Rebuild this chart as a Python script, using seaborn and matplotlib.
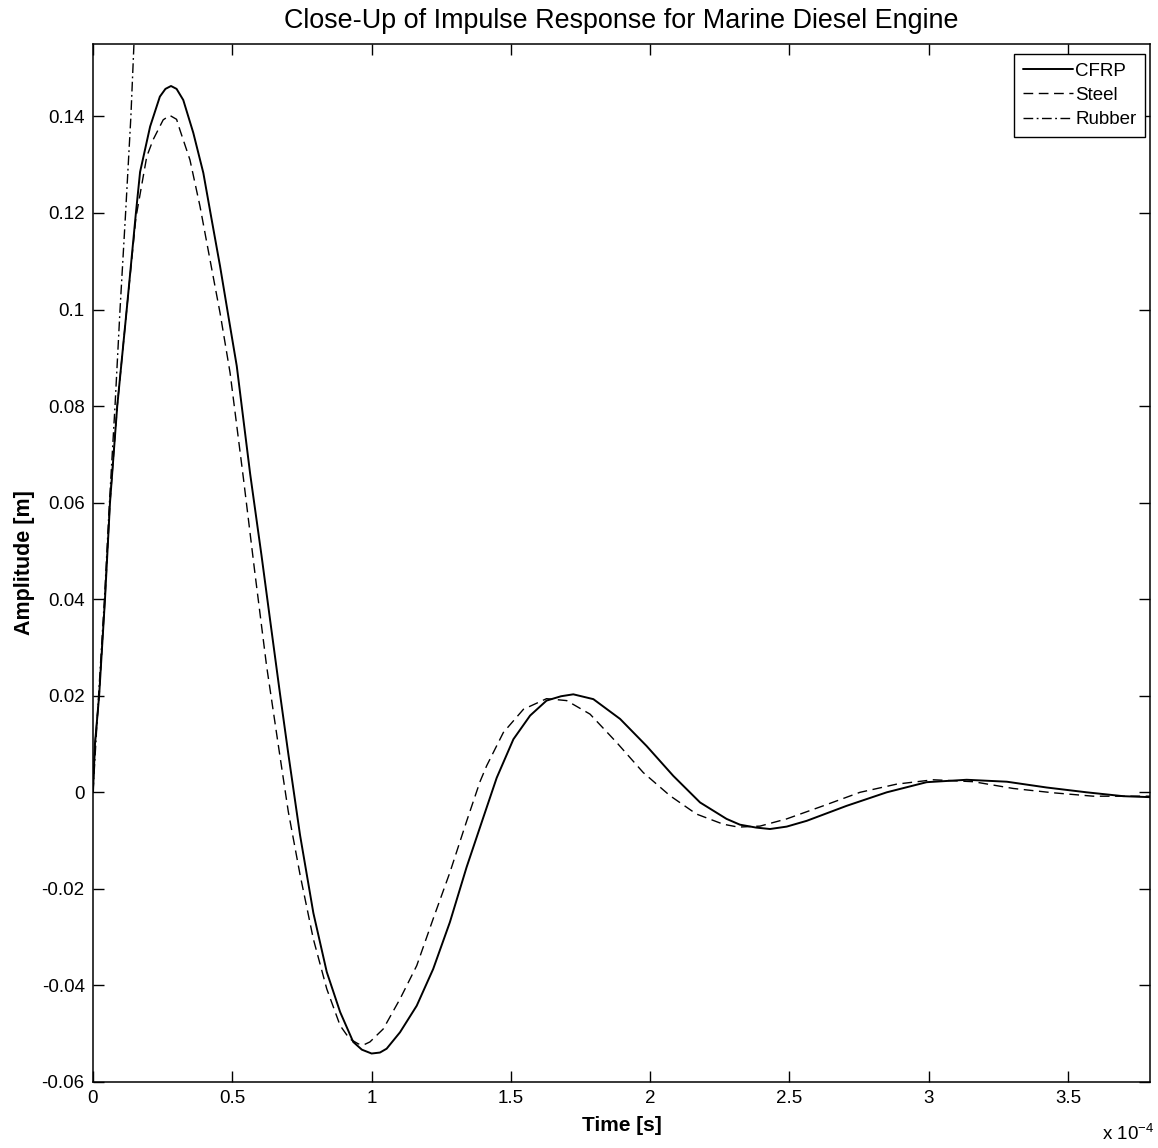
import numpy as np
import pandas as pd
import matplotlib
matplotlib.use("Agg")
import matplotlib.pyplot as plt
import seaborn as sns

# ---- data (time in units of 1e-4 s, amplitude in m) ----
cfrp_t = [0, 0.007, 0.022, 0.043, 0.061, 0.087, 0.121, 0.154, 0.169, 0.205, 0.240, 0.260,
          0.280, 0.300, 0.324, 0.360, 0.396, 0.426, 0.456, 0.486, 0.516, 0.564, 0.605,
          0.635, 0.671, 0.701, 0.731, 0.743, 0.791, 0.839, 0.887, 0.934, 0.965, 1.000,
          1.030, 1.054, 1.102, 1.162, 1.221, 1.281, 1.341, 1.401, 1.449, 1.509, 1.569,
          1.628, 1.680, 1.724, 1.796, 1.892, 1.987, 2.083, 2.179, 2.274, 2.322, 2.380,
          2.430, 2.490, 2.562, 2.705, 2.849, 2.992, 3.136, 3.280, 3.423, 3.567, 3.698, 3.794]
cfrp_v = [0, 0.010, 0.020, 0.040, 0.060, 0.080, 0.100, 0.120, 0.1285, 0.1379, 0.1441, 0.1457,
          0.1463, 0.1457, 0.1434, 0.1366, 0.1283, 0.1186, 0.1090, 0.0986, 0.0883, 0.0660, 0.0490,
          0.0360, 0.0205, 0.0080, -0.0040, -0.0088, -0.0250, -0.0372, -0.0455, -0.0517, -0.0533, -0.0541,
          -0.0539, -0.0531, -0.0497, -0.0442, -0.0366, -0.0269, -0.0155, -0.0052, 0.0030, 0.0110, 0.0159,
          0.0190, 0.0199, 0.0203, 0.0193, 0.0152, 0.0096, 0.0034, -0.0021, -0.0055, -0.0067, -0.0073,
          -0.0076, -0.0071, -0.0059, -0.0028, 0.0000, 0.0021, 0.0026, 0.0022, 0.0010, 0.0000, -0.0008, -0.0010]

steel_t = [0, 0.007, 0.022, 0.043, 0.061, 0.087, 0.121, 0.154, 0.193, 0.216, 0.252, 0.276,
           0.300, 0.312, 0.348, 0.384, 0.420, 0.456, 0.492, 0.540, 0.581, 0.623, 0.671,
           0.701, 0.743, 0.791, 0.839, 0.887, 0.920, 0.952, 0.972, 0.994, 1.042, 1.102,
           1.162, 1.221, 1.281, 1.341, 1.389, 1.413, 1.473, 1.545, 1.628, 1.700, 1.784,
           1.880, 1.975, 2.071, 2.166, 2.262, 2.316, 2.394, 2.490, 2.621, 2.753, 2.885,
           3.016, 3.160, 3.303, 3.447, 3.590, 3.700, 3.794]
steel_v = [0, 0.010, 0.020, 0.040, 0.060, 0.080, 0.100, 0.119, 0.1317, 0.1352, 0.1393, 0.1402,
           0.1394, 0.1372, 0.1310, 0.1214, 0.1103, 0.0993, 0.0869, 0.0650, 0.0455, 0.0262, 0.0075,
           -0.0040, -0.0170, -0.0304, -0.0407, -0.0483, -0.0510, -0.0521, -0.0523, -0.0517, -0.0490, -0.0428,
           -0.0359, -0.0262, -0.0166, -0.0060, 0.0022, 0.0055, 0.0124, 0.0172, 0.0194, 0.0190, 0.0162,
           0.0103, 0.0041, -0.0007, -0.0045, -0.0066, -0.0072, -0.0070, -0.0055, -0.0028, 0.0000, 0.0017,
           0.0026, 0.0022, 0.0008, -0.0001, -0.0008, -0.0008, -0.0008]

rubber_t = [0, 0.020, 0.041, 0.059, 0.079, 0.097, 0.117, 0.136, 0.147, 0.160]
rubber_v = [0, 0.020, 0.040, 0.060, 0.080, 0.100, 0.120, 0.140, 0.155, 0.172]

series_names = ["CFRP", "Steel", "Rubber"]
x_ticks = [0, 0.5, 1, 1.5, 2, 2.5, 3, 3.5]
y_ticks = [-0.06, -0.04, -0.02, 0, 0.02, 0.04, 0.06, 0.08, 0.1, 0.12, 0.14]

title = "Close-Up of Impulse Response for Marine Diesel Engine"
x_label = "Time [s]"
y_label = "Amplitude [m]"

# ---- style ----
sns.set_style("ticks")
plt.rcParams["font.family"] = ["Liberation Sans", "DejaVu Sans"]
plt.rcParams["axes.unicode_minus"] = False
plt.rcParams["mathtext.default"] = "regular"
plt.rcParams["text.color"] = "black"
plt.rcParams["axes.labelcolor"] = "black"
plt.rcParams["xtick.color"] = "black"
plt.rcParams["ytick.color"] = "black"

W, H = 1158, 1148
fig = plt.figure(figsize=(W / 100, H / 100), dpi=100)
L, R, T, B = 93, 1150, 44, 1082
ax = fig.add_axes([L / W, 1 - B / H, (R - L) / W, (B - T) / H])

fs = 13.5
sns.lineplot(x=cfrp_t, y=cfrp_v, ax=ax, color="black", linewidth=1.4, sort=False, label=series_names[0])
sns.lineplot(x=steel_t, y=steel_v, ax=ax, color="black", linewidth=1.0, sort=False, label=series_names[1])
ax.get_lines()[-1].set_dashes((7, 4))
sns.lineplot(x=rubber_t, y=rubber_v, ax=ax, color="black", linewidth=1.0, sort=False, label=series_names[2])
ax.get_lines()[-1].set_dashes((7, 2.5, 1.3, 2.5))

ax.set_xlim(0, 3.794)
ax.set_ylim(-0.06, 0.155)
ax.set_xticks(x_ticks)
ax.set_xticklabels([f"{v:g}" for v in x_ticks])
ax.set_yticks(y_ticks)
ax.set_yticklabels([f"{round(v, 2):g}" for v in y_ticks])
ax.tick_params(direction="in", top=True, right=True, length=8, width=1.0,
               labelsize=fs, colors="black", labelcolor="black", pad=6)
for s in ax.spines.values():
    s.set_visible(True)
    s.set_linewidth(1.1)
    s.set_color("black")

ax.set_xlabel(x_label, fontsize=15, fontweight="bold", color="black")
ax.set_ylabel(y_label, fontsize=15.5, fontweight="bold", color="black")
ax.xaxis.set_label_coords(0.5, -(1116 - B) / (B - T))
ax.yaxis.set_label_coords(-(L - 35) / (R - L), 0.5)

fig.text(0.5 * (L + R) / W, 1 - 21 / H, title, fontsize=19.4, ha="center", va="center", color="black")

fig.text(1102 / W, 1 - 1140 / H, r"x 10$^{-4}$", fontsize=fs, ha="left", va="baseline", color="black")

leg = ax.legend(loc="upper right", bbox_to_anchor=((1145 - L) / (R - L), (B - 54) / (B - T)),
                borderaxespad=0, fontsize=fs, frameon=True, fancybox=False, shadow=False,
                handlelength=2.7, handletextpad=0.1, labelspacing=0.38, borderpad=0.45)
leg.get_frame().set_edgecolor("black")
leg.get_frame().set_linewidth(1.0)
leg.get_frame().set_alpha(1)
for txt in leg.get_texts():
    txt.set_color("black")

fig.savefig("out.png", dpi=100, facecolor="white")
